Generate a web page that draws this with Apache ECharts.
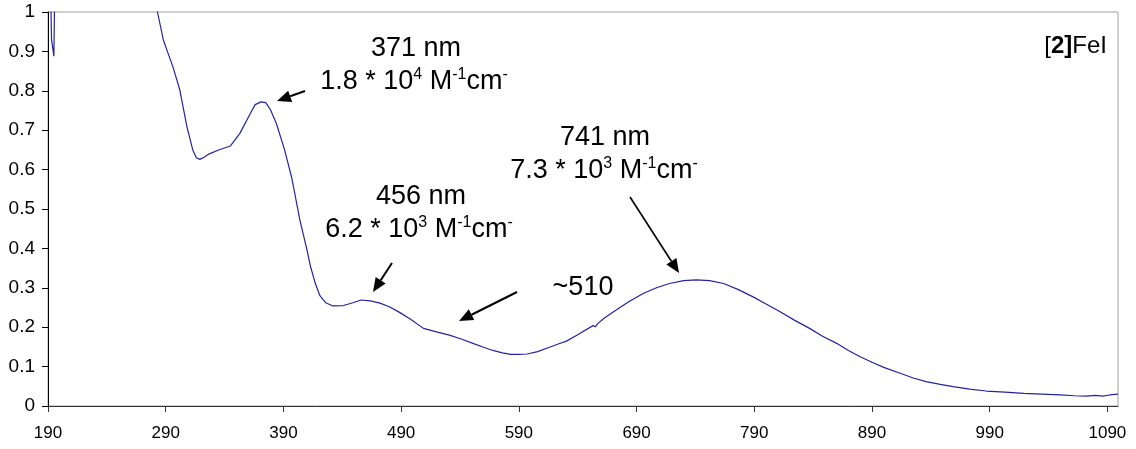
<!DOCTYPE html>
<html>
<head>
<meta charset="utf-8">
<title>[2]FeI absorption spectrum</title>
<script src="https://cdn.jsdelivr.net/npm/echarts@6/dist/echarts.min.js"></script>
<style>
  html, body { margin: 0; padding: 0; background: #fff; }
  #chart { width: 1136px; height: 449px; }
</style>
</head>
<body>
<div id="chart"></div>
<script>
// Wavelength (nm) of each recorded point
const wavelength = [
  190, 191, 193, 195, 196.5, 200, 240, 279, 283, 288, 292, 296, 302, 308, 313, 316, 319,
  323, 327, 336, 345, 353, 362, 366, 371, 375, 379, 384, 391, 397, 404, 410, 413, 417, 421, 426,
  432, 441, 449, 456, 464, 472, 480, 489, 498, 509, 520, 531, 541, 551, 560, 568,
  576, 583, 590, 597, 606, 616, 624, 630, 640, 653, 655, 657, 663, 673, 684, 696,
  707, 718, 730, 741, 752, 764, 776, 789, 800, 812, 824, 837, 848, 860, 870, 880,
  890, 900, 914, 925, 936, 948, 959, 973, 987, 1003, 1019, 1034, 1050, 1062, 1072,
  1080, 1086, 1092, 1099
];
// Absorbance at each wavelength (values above 1 run off the top of the plot)
const absorbance = [
  1.5, 1.25, 0.93, 0.888, 1.25, 1.6, 1.8, 1.1, 1.0, 0.929, 0.895, 0.862, 0.802, 0.709, 0.650, 0.630, 0.626,
  0.632, 0.640, 0.651, 0.660, 0.692, 0.743, 0.765, 0.772, 0.770, 0.752, 0.717, 0.650, 0.580, 0.472, 0.396, 0.354, 0.312, 0.280, 0.262,
  0.254, 0.255, 0.262, 0.269, 0.267, 0.261, 0.252, 0.237, 0.220, 0.197, 0.188, 0.180, 0.170, 0.159, 0.149, 0.141,
  0.135, 0.131, 0.131, 0.132, 0.138, 0.149, 0.158, 0.164, 0.181, 0.204, 0.201, 0.209, 0.224, 0.244, 0.266, 0.286,
  0.300, 0.311, 0.318, 0.320, 0.318, 0.311, 0.296, 0.277, 0.259, 0.239, 0.218, 0.197, 0.177, 0.159, 0.141, 0.125,
  0.111, 0.098, 0.083, 0.071, 0.062, 0.055, 0.049, 0.043, 0.038, 0.035, 0.032, 0.030, 0.028, 0.026, 0.025,
  0.027, 0.025, 0.028, 0.030
];
// Tick positions of the wavelength axis
const xTicks = [190, 290, 390, 490, 590, 690, 790, 890, 990, 1090];

const FONT = '"Liberation Sans", Arial, sans-serif';

const points = wavelength.map((w, i) => [w, absorbance[i]]);

// Annotation text with superscript exponents
const supRich = {
  s: { fontSize: 16, fontFamily: FONT, fill: '#000', verticalAlign: 'top', lineHeight: 30 },
  n: { fontSize: 27, fontFamily: FONT, fill: '#000', lineHeight: 30 }
};
function label(x, y, text) {
  return {
    type: 'text', x: x, y: y, z: 10,
    style: {
      text: text, fontSize: 27, fontFamily: FONT, fill: '#000',
      align: 'center', verticalAlign: 'middle', rich: supRich
    }
  };
}
function coefLabel(x, y, mantissa, exp) {
  return label(x, y, '{n|' + mantissa + ' * 10}{s|' + exp + '}{n| M}{s|-1}{n|cm}{s|-}');
}
// Straight arrow with a filled head
function arrow(x1, y1, x2, y2, width) {
  const dx = x2 - x1, dy = y2 - y1;
  const len = Math.sqrt(dx * dx + dy * dy);
  const ux = dx / len, uy = dy / len;
  const headLen = 14, headHalf = 6;
  const bx = x2 - ux * headLen, by = y2 - uy * headLen;
  return {
    type: 'group', z: 10,
    children: [
      { type: 'line', shape: { x1: x1, y1: y1, x2: bx, y2: by },
        style: { stroke: '#000', lineWidth: width } },
      { type: 'polygon',
        shape: { points: [[x2, y2], [bx - uy * headHalf, by + ux * headHalf], [bx + uy * headHalf, by - ux * headHalf]] },
        style: { fill: '#000' } }
    ]
  };
}

const chart = echarts.init(document.getElementById('chart'), null, { renderer: 'canvas' });

chart.setOption({
  animation: false,
  backgroundColor: '#fff',
  grid: {
    left: 48, right: 18, top: 12, bottom: 43,
    show: true, borderColor: '#a0a0a0', borderWidth: 1, backgroundColor: 'transparent'
  },
  xAxis: {
    type: 'value', min: 190, max: 1099,
    axisLine: { show: true, onZero: false, lineStyle: { color: '#333', width: 1 } },
    axisTick: { show: true, length: 6, customValues: xTicks, lineStyle: { color: '#333' } },
    axisLabel: {
      customValues: xTicks, fontSize: 17, fontFamily: FONT, color: '#000', margin: 19,
      formatter: v => String(v)
    },
    splitLine: { show: false }
  },
  yAxis: {
    type: 'value', min: 0, max: 1, interval: 0.1,
    axisLine: { show: true, lineStyle: { color: '#000', width: 1 } },
    axisTick: { show: true, length: 6, lineStyle: { color: '#000' } },
    axisLabel: { fontSize: 19, fontFamily: FONT, color: '#000', margin: 13 },
    splitLine: { show: false }
  },
  series: [{
    type: 'line', data: points, showSymbol: false, clip: true,
    lineStyle: { color: '#2424a0', width: 1.2 }
  }],
  graphic: [
    label(416, 49, '371 nm'),
    coefLabel(414, 82, '1.8', '4'),
    arrow(305, 91, 277, 101, 2),

    label(421, 197, '456 nm'),
    coefLabel(419, 230, '6.2', '3'),
    arrow(392, 263, 373, 292, 2),

    label(605, 138, '741 nm'),
    coefLabel(604, 171, '7.3', '3'),
    arrow(630, 197, 679, 273, 1.6),

    label(583, 288, '~510'),
    arrow(517, 292, 459, 321, 2),

    {
      type: 'text', x: 1107, y: 46, z: 10,
      style: {
        text: '{r|[}{b|2]}{r|FeI}', align: 'right', verticalAlign: 'middle',
        rich: {
          r: { fontSize: 24, fontFamily: FONT, fill: '#000' },
          b: { fontSize: 24, fontFamily: FONT, fontWeight: 'bold', fill: '#000' }
        }
      }
    }
  ]
});
</script>
</body>
</html>
